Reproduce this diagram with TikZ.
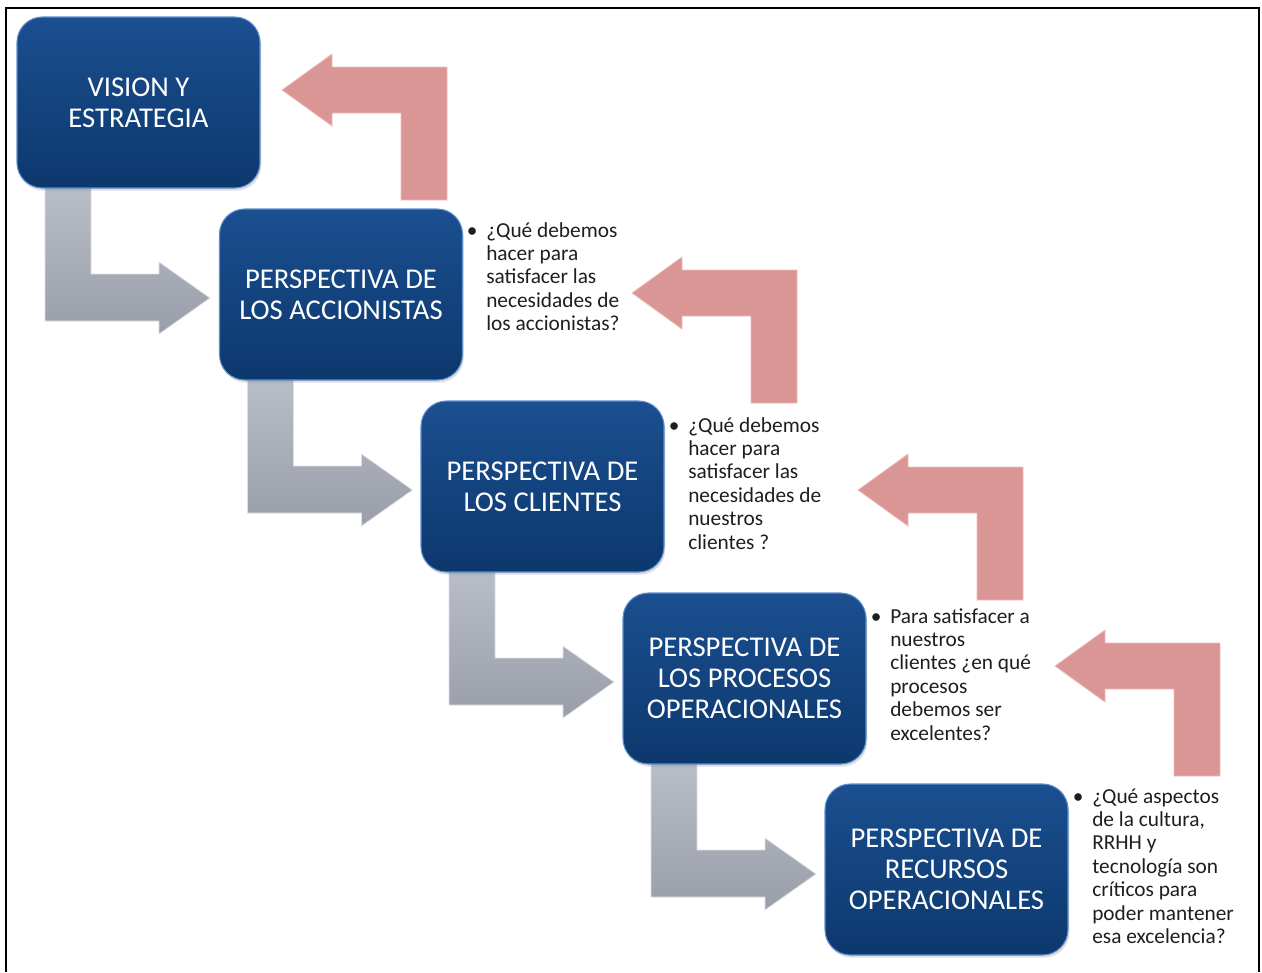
\documentclass[tikz,border=0pt]{standalone}
\usepackage{fontspec}
\setmainfont{Carlito}
\usetikzlibrary{calc,shadows}
\definecolor{boxtop}{HTML}{1B4F90}
\definecolor{boxbot}{HTML}{0C386D}
\definecolor{boxrim}{HTML}{5D8FCC}
\definecolor{greytop}{HTML}{BABEC9}
\definecolor{greybot}{HTML}{9A9EA8}
\definecolor{greyrim}{HTML}{DDE0E7}
\definecolor{pinkfill}{HTML}{D99694}
\definecolor{pinkrim}{HTML}{EDBDBB}
\definecolor{qtext}{HTML}{1E1E1E}
\begin{document}
\begin{tikzpicture}[x=0.75pt,y=-0.75pt,
  stagebox/.style={rounded corners=19pt, minimum width=182.25pt, minimum height=128.25pt,
    top color=boxtop, bottom color=boxbot, draw=boxrim, line width=0.8pt,
    text=white, align=center, font=\fontsize{21.5}{23.25}\selectfont, inner sep=0pt,
    drop shadow={opacity=0.25, shadow xshift=1pt, shadow yshift=-2pt}},
  question/.style={anchor=base west, inner sep=0pt, text=qtext,
    font=\fontsize{16}{17.6}\selectfont},
  downarrow/.pic={\path[top color=greytop, bottom color=greybot, draw=greyrim, line width=0.6pt]
    (0,-6) -- (46,-6) -- (46,86) -- (114,86) -- (114,74) -- (165,110)
    -- (114,146) -- (114,133) -- (0,133) -- cycle;},
  backarrow/.pic={\path[fill=pinkfill, draw=pinkrim, line width=0.6pt]
    (0,0) -- (50,-36) -- (50,-23) -- (165,-23) -- (165,110) -- (119,110)
    -- (119,23) -- (50,23) -- (50,36) -- cycle;}
]
\useasboundingbox (0,0) rectangle (1262,972);

% frame
\draw[line width=1.8pt] (6,972) -- (6,8) -- (1259,8) -- (1259,972);

% return arrows
\coordinate (r1) at (282,90);
\coordinate (r2) at (632,293);
\coordinate (r3) at (858,490);
\coordinate (r4) at (1055,666);
\foreach \r in {r1,r2,r3,r4} \pic at (\r) {backarrow};

% stage box centres
\coordinate (c1) at (138.5,102.5);
\coordinate (c2) at (341,294.5);
\coordinate (c3) at (542.5,486.5);
\coordinate (c4) at (744.5,678.5);
\coordinate (c5) at (946.5,869.5);

% down arrows from each stage to the next
\foreach \i in {1,2,3,4}
  \pic at ($(c\i)+(-121.5,85.5)+(28,0)$) {downarrow};

% stage boxes
\node[stagebox] (b1) at (c1) {VISION Y\\ESTRATEGIA};
\node[stagebox] (b2) at (c2) {PERSPECTIVA DE\\LOS ACCIONISTAS};
\node[stagebox] (b3) at (c3) {PERSPECTIVA DE\\LOS CLIENTES};
\node[stagebox] (b4) at (c4) {PERSPECTIVA DE\\LOS PROCESOS\\OPERACIONALES};
\node[stagebox] (b5) at (c5) {PERSPECTIVA DE\\RECURSOS\\OPERACIONALES};

% guiding questions
\node[question] (q1) at (486,237) {\begin{tabular}[t]{@{}l@{}}\llap{•\hspace{6.5pt}}¿Qué debemos\\hacer para\\satisfacer las\\necesidades de\\los accionistas?\end{tabular}};
\node[question] (q2) at (688,432) {\begin{tabular}[t]{@{}l@{}}\llap{•\hspace{6.5pt}}¿Qué debemos\\hacer para\\satisfacer las\\necesidades de\\nuestros\\clientes ?\end{tabular}};
\node[question] (q3) at (890,623) {\begin{tabular}[t]{@{}l@{}}\llap{•\hspace{6.5pt}}Para satisfacer a\\nuestros\\clientes ¿en qué\\procesos\\debemos ser\\excelentes?\end{tabular}};
\node[question] (q4) at (1092,803) {\begin{tabular}[t]{@{}l@{}}\llap{•\hspace{6.5pt}}¿Qué aspectos\\de la cultura,\\RRHH y\\tecnología son\\críticos para\\poder mantener\\esa excelencia?\end{tabular}};
\end{tikzpicture}
\end{document}
